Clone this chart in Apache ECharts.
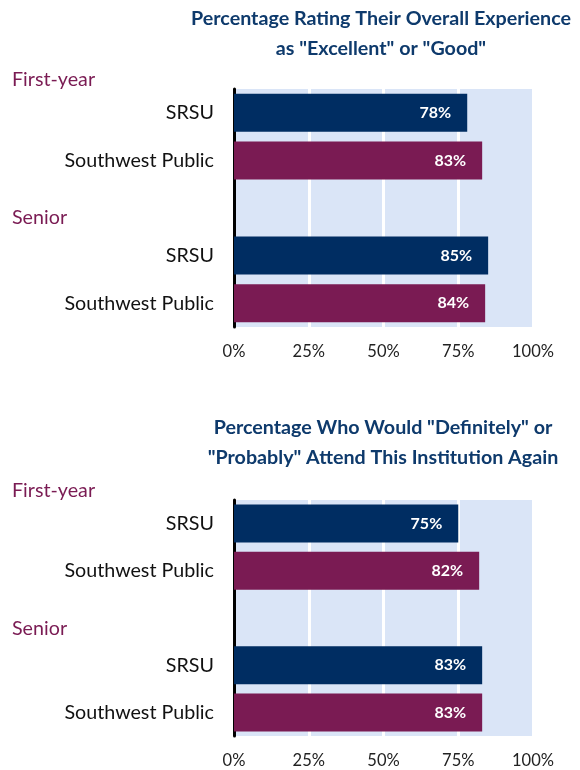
<!DOCTYPE html>
<html>
<head>
<meta charset="utf-8">
<script src="https://cdn.jsdelivr.net/npm/echarts@6/dist/echarts.min.js"></script>
<style>html,body{margin:0;padding:0;background:#fff}#c{width:580px;height:770px}</style>
</head>
<body>
<div id="c"></div>
<script>
const categories = ['SRSU', 'Southwest Public', '', 'SRSU', 'Southwest Public'];
const groupLabels = ['First-year', 'Senior'];
const experienceValues = [78, 83, null, 85, 84];
const attendAgainValues = [75, 82, null, 83, 83];
const tickLabels = ['0%', '25%', '50%', '75%', '100%'];
const chartTitles = [
  'Percentage Rating Their Overall Experience\nas "Excellent" or "Good"',
  'Percentage Who Would "Definitely" or\n"Probably" Attend This Institution Again'
];

const FONT = 'Lato';
const NAVY = '#002D62';
const PLUM = '#7A1B53';
const TITLE = '#0E3A6C';
const colorFor = i => (i % 3 === 0 ? NAVY : PLUM);

const grids = [
  {left: 234, width: 299, top: 89, height: 238},
  {left: 234, width: 299, top: 500, height: 236}
];

function mkData(vals) {
  return vals.map((v, i) => v == null ? null : {value: v, itemStyle: {color: colorFor(i)}});
}

const titles = [
  {text: chartTitles[0], left: 376, top: -1, textAlign: 'center'},
  {text: chartTitles[1], left: 378, top: 408, textAlign: 'center'}
].map(t => Object.assign(t, {
  textStyle: {fontFamily: FONT, fontSize: 19.7, fontWeight: 'bold', color: TITLE, lineHeight: 30}
}));
const groupPos = [65, 203, 476, 614];
const groupTitles = [groupLabels[0], groupLabels[1], groupLabels[0], groupLabels[1]].map((t, i) => ({
  text: t, left: 7, top: groupPos[i],
  textStyle: {fontFamily: FONT, fontSize: 19.7, fontWeight: 'normal', color: '#7A1B53'}
}));

const option = {
  animation: false,
  title: titles.concat(groupTitles),
  grid: grids.map(g => Object.assign({show: true, backgroundColor: '#DAE5F7', borderWidth: 0, containLabel: false}, g)),
  xAxis: grids.map((g, gi) => ({
    type: 'value', gridIndex: gi, min: 0, max: 100, interval: 25,
    axisLine: {show: false}, axisTick: {show: false},
    splitLine: {show: true, lineStyle: {color: '#ffffff', width: 3}},
    axisLabel: {
      fontFamily: FONT, fontSize: 16.5, color: '#222', margin: 16,
      formatter: v => tickLabels[Math.round(v / 25)]
    }
  })),
  yAxis: grids.map((g, gi) => ({
    type: 'category', gridIndex: gi, inverse: true, data: categories,
    axisLine: {show: true, lineStyle: {color: '#000', width: 3}},
    axisTick: {show: false},
    axisLabel: {fontFamily: FONT, fontSize: 19.7, color: '#111', margin: 20}
  })),
  series: [experienceValues, attendAgainValues].map((vals, gi) => ({
    type: 'bar', xAxisIndex: gi, yAxisIndex: gi,
    data: mkData(vals), barWidth: 38,
    label: {
      show: true, position: 'insideRight', distance: 16,
      formatter: p => p.value + '%',
      fontFamily: FONT, fontSize: 16, fontWeight: 'bold', color: '#fff'
    }
  }))
};

echarts.init(document.getElementById('c')).setOption(option);
</script>
</body>
</html>
